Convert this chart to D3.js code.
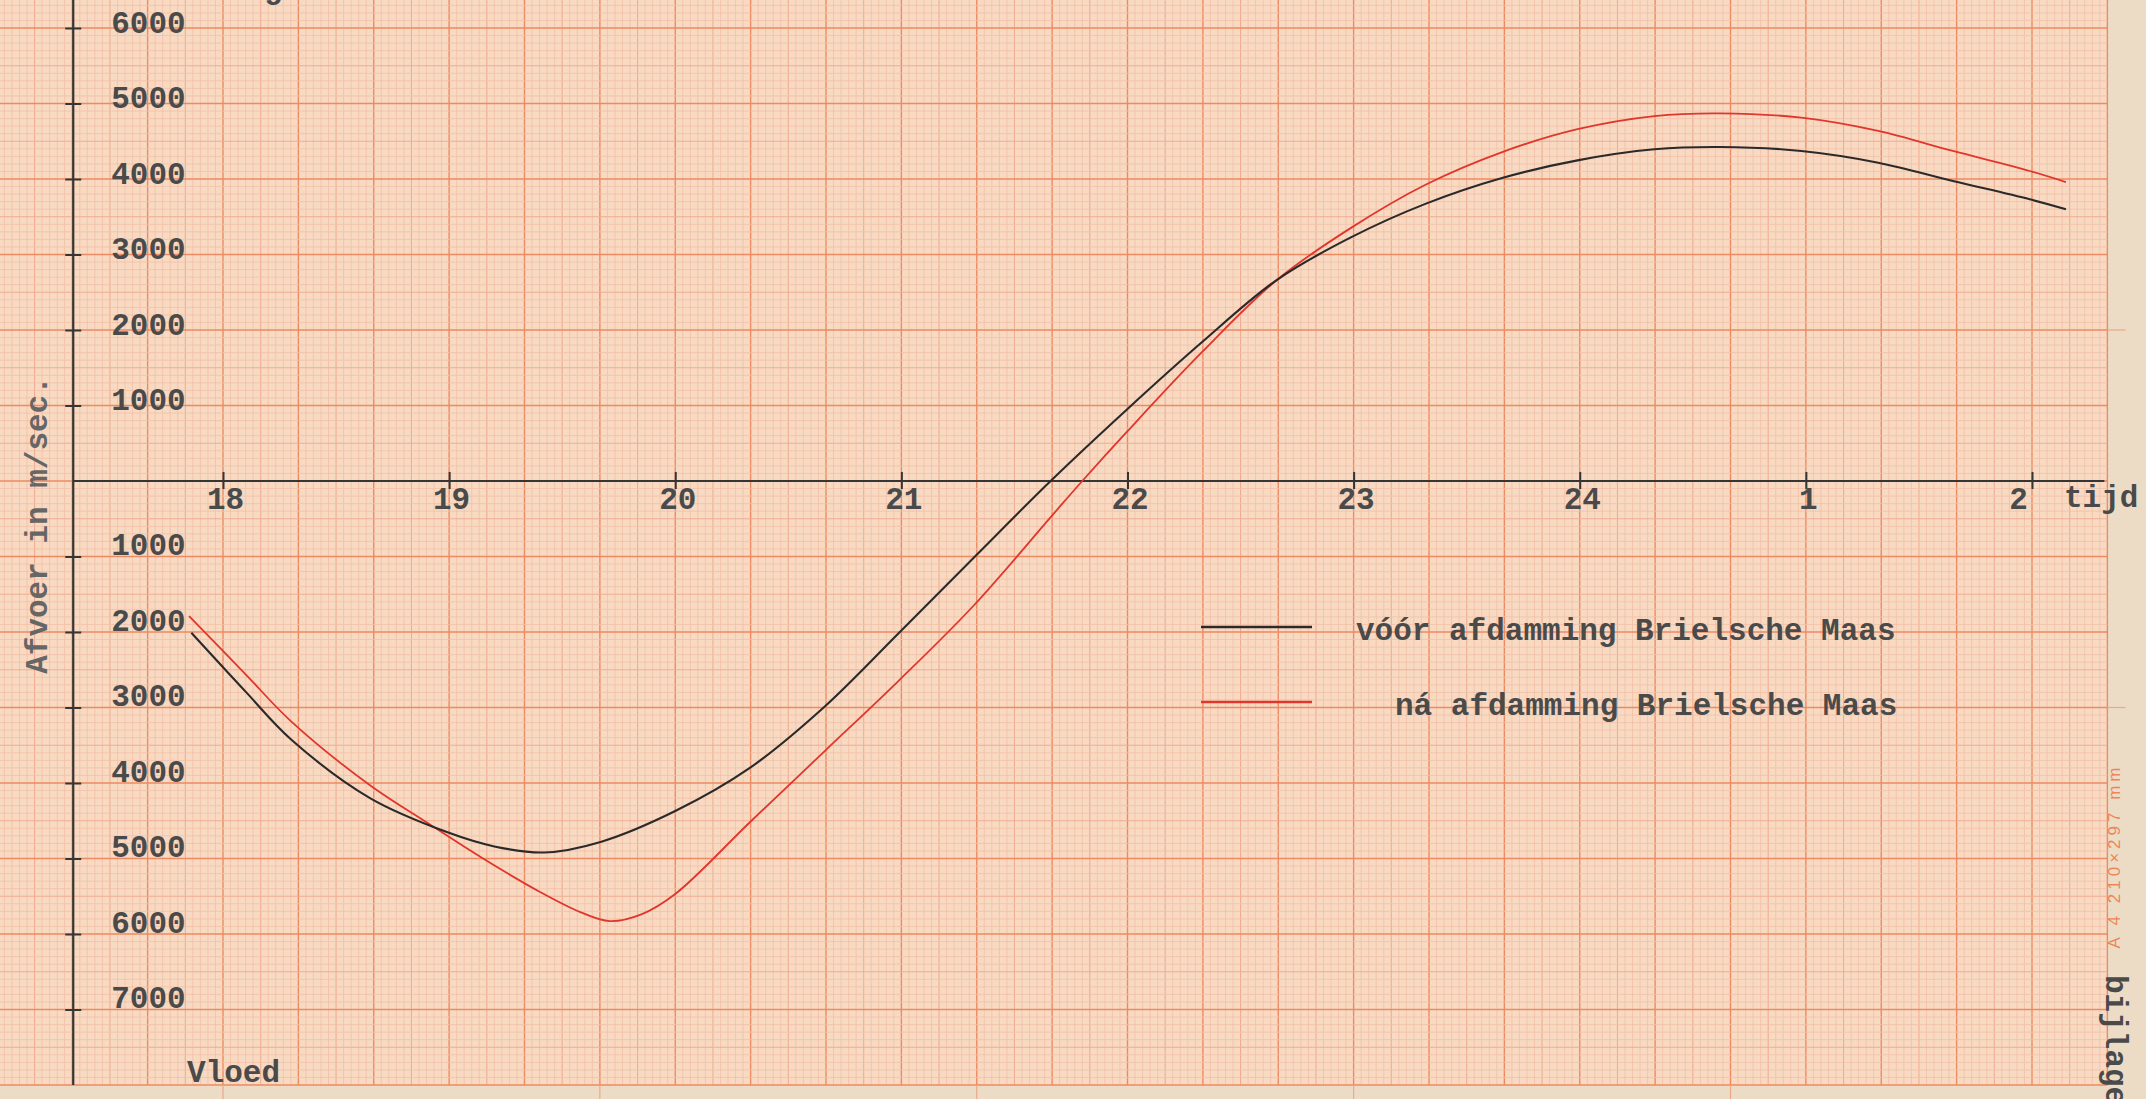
<!DOCTYPE html>
<html>
<head>
<meta charset="utf-8">
<script src="https://cdn.jsdelivr.net/npm/d3@7"></script>
<style>
  body { margin: 0; background: #ecdcc6; }
  svg { display: block; }
  .tw { font-family: "Liberation Mono", "DejaVu Sans Mono", monospace; font-weight: bold; font-size: 31px; fill: #4a4a4a; }
</style>
</head>
<body>
<svg id="chart" width="2146" height="1099"></svg>
<script>
// hours (after 24 continue as 25, 26 = 1, 2 o'clock), values in m3/sec
var voorHours  = [17.86, 18.10, 18.30, 18.65, 18.99, 19.20, 19.42, 19.67, 20.00, 20.33, 20.66, 20.99, 21.32, 21.66, 22.00, 22.33, 22.66, 22.99, 23.32, 23.66, 23.99, 24.33, 24.62, 24.98, 25.32, 25.65, 25.99, 26.15];
var voorValues = [-2010, -2790, -3420, -4200, -4650, -4840, -4920, -4780, -4371, -3800, -2990, -2010, -1016, 0, 954, 1840, 2662, 3230, 3674, 4017, 4247, 4393, 4424, 4371, 4216, 3974, 3731, 3598];

var naHours  = [17.85, 18.10, 18.30, 18.65, 18.90, 19.15, 19.40, 19.58, 19.71, 19.85, 20.00, 20.33, 20.66, 20.99, 21.32, 21.67, 21.80, 22.00, 22.33, 22.66, 22.99, 23.32, 23.66, 23.99, 24.33, 24.62, 24.98, 25.32, 25.65, 25.99, 26.15];
var naValues = [-1790, -2560, -3180, -4030, -4520, -5000, -5440, -5710, -5830, -5740, -5470, -4520, -3580, -2640, -1649, -445, 0, 660, 1709, 2662, 3356, 3927, 4360, 4660, 4834, 4870, 4812, 4636, 4371, 4106, 3960];

var xTicks = [18, 19, 20, 21, 22, 23, 24, 25, 26];
var yTicks = [6000, 5000, 4000, 3000, 2000, 1000, -1000, -2000, -3000, -4000, -5000, -6000, -7000];

var legendLabels = ["vóór afdamming Brielsche Maas", "ná afdamming Brielsche Maas"];

var svg = d3.select("#chart");

// 1 hour = 3 cm, 1000 m3/sec = 1 cm on the graph paper
var x = d3.scaleLinear().domain([18, 26]).range([223, 2032]);
var y = d3.scaleLinear().domain([-8000, 6000]).range([1085, 28]);

var paperLeft = 17, paperRight = 26 + 1/3, paperBottom = -8000;

// graph paper
svg.append("rect")
    .attr("x", 0).attr("y", 0)
    .attr("width", x(paperRight)).attr("height", y(paperBottom))
    .attr("fill", "#f8dac3");

var grid = svg.append("g");

function lineStyle(k) {
  if (k % 10 == 0) return {c: "#ee8a62", w: 1.4};
  if (k % 5 == 0) return {c: "#f0ad92", w: 1.1};
  return {c: "#f2c1a8", w: 0.85};
}
function byWeight(a, b) {
  return (a % 10 == 0) - (b % 10 == 0) || (a % 5 == 0) - (b % 5 == 0);
}

var nV = Math.round((paperRight - paperLeft) * 30);
grid.selectAll(".vl")
    .data(d3.range(0, nV + 1).sort(byWeight))
  .enter().append("line")
    .attr("x1", function(k) { return x(paperLeft + k / 30); })
    .attr("x2", function(k) { return x(paperLeft + k / 30); })
    .attr("y1", 0)
    .attr("y2", y(paperBottom))
    .attr("stroke", function(k) { return lineStyle(k).c; })
    .attr("stroke-width", function(k) { return lineStyle(k).w; });

grid.selectAll(".hl")
    .data(d3.range(0, 145).sort(byWeight))
  .enter().append("line")
    .attr("x1", 0)
    .attr("x2", x(paperRight))
    .attr("y1", function(k) { return y(paperBottom + k * 100); })
    .attr("y2", function(k) { return y(paperBottom + k * 100); })
    .attr("stroke", function(k) { return lineStyle(k).c; })
    .attr("stroke-width", function(k) { return lineStyle(k).w; });

// 5 cm marks running into the margin
grid.selectAll(".m5v")
    .data([18, 19 + 2/3, 21 + 1/3, 23, 24 + 2/3])
  .enter().append("line")
    .attr("x1", function(d) { return x(d); }).attr("x2", function(d) { return x(d); })
    .attr("y1", y(paperBottom)).attr("y2", 1099)
    .attr("stroke", "#eaa88a").attr("stroke-width", 1.2);
grid.selectAll(".m5h")
    .data([2000, -3000])
  .enter().append("line")
    .attr("x1", x(paperRight)).attr("x2", x(paperRight) + 18)
    .attr("y1", function(d) { return y(d); }).attr("y2", function(d) { return y(d); })
    .attr("stroke", "#eaa88a").attr("stroke-width", 1.2);

// axes
var axisX = x(17 + 1/3) + 1;

svg.append("line")
    .attr("x1", axisX).attr("x2", axisX)
    .attr("y1", 0).attr("y2", y(paperBottom))
    .attr("stroke", "#353535").attr("stroke-width", 2.2);

svg.append("line")
    .attr("x1", axisX).attr("x2", x(paperRight) - 3)
    .attr("y1", y(0)).attr("y2", y(0))
    .attr("stroke", "#353535").attr("stroke-width", 2.2);

var yAxis = svg.append("g")
    .attr("transform", "translate(" + axisX + ",0)")
    .call(d3.axisRight(y).tickValues(yTicks)
      .tickFormat(function(d) { return Math.abs(d); })
      .tickSizeInner(8).tickSizeOuter(0).tickPadding(30));
yAxis.select(".domain").remove();
yAxis.selectAll(".tick line").attr("x1", -8).attr("stroke", "#353535").attr("stroke-width", 2);
yAxis.selectAll(".tick text")
    .attr("class", "tw")
    .attr("dy", function(d) { return d > 0 ? 4 : -2; })
    .attr("font-family", null).attr("font-size", null).attr("fill", null);

var xAxis = svg.append("g")
    .attr("transform", "translate(0," + y(0) + ")")
    .call(d3.axisBottom(x).tickValues(xTicks)
      .tickFormat(function(d) { return d > 24 ? d - 24 : d; })
      .tickSizeInner(8).tickSizeOuter(0));
xAxis.select(".domain").remove();
xAxis.selectAll(".tick line").attr("y1", -9).attr("stroke", "#353535").attr("stroke-width", 2);
xAxis.selectAll(".tick text")
    .attr("class", "tw")
    .attr("y", 28).attr("dy", 0)
    .attr("dx", function(d) { return d == 26 ? -14 : 2; })
    .attr("font-family", null).attr("font-size", null).attr("fill", null);

// texts
svg.append("text").attr("class", "tw").attr("x", 2064).attr("y", 507).text("tijd");
svg.append("text").attr("class", "tw").attr("x", 187).attr("y", 1082).text("Vloed");
svg.append("text").attr("class", "tw").attr("x", 264).attr("y", -2).text("g");
svg.append("text").attr("class", "tw")
    .attr("transform", "translate(47,525) rotate(-90)")
    .attr("text-anchor", "middle")
    .style("fill", "#666")
    .text("Afvoer in m/sec.");
svg.append("text").attr("class", "tw")
    .attr("transform", "translate(2106,975) rotate(90)")
    .text("bijlage");
svg.append("text")
    .attr("transform", "translate(2120,856) rotate(-90)")
    .attr("text-anchor", "middle")
    .style("font-family", "'Liberation Sans', sans-serif")
    .style("font-size", "17px")
    .style("letter-spacing", "4px")
    .style("fill", "#ee8558")
    .text("A 4 210×297 mm");

// curves
var line = d3.line()
    .x(function(d) { return x(d[0]); })
    .y(function(d) { return y(d[1]); })
    .curve(d3.curveCatmullRom.alpha(0.5));

var voor = d3.zip(voorHours, voorValues);
var na = d3.zip(naHours, naValues);

svg.append("path").datum(na)
    .attr("d", line).attr("fill", "none")
    .attr("stroke", "#e0362c").attr("stroke-width", 1.8);

svg.append("path").datum(voor)
    .attr("d", line).attr("fill", "none")
    .attr("stroke", "#2a2a2a").attr("stroke-width", 2.1);

// legend
var legend = svg.append("g");
legend.selectAll("line")
    .data(legendLabels)
  .enter().append("line")
    .attr("x1", 1201).attr("x2", 1312)
    .attr("y1", function(d, i) { return 627 + i * 75; })
    .attr("y2", function(d, i) { return 627 + i * 75; })
    .attr("stroke", function(d, i) { return i == 0 ? "#2a2a2a" : "#e0362c"; })
    .attr("stroke-width", 2.5);
legend.selectAll("text")
    .data(legendLabels)
  .enter().append("text")
    .attr("class", "tw")
    .attr("x", function(d, i) { return i == 0 ? 1356 : 1395; })
    .attr("y", function(d, i) { return 640 + i * 75; })
    .text(function(d) { return d; });
</script>
</body>
</html>
